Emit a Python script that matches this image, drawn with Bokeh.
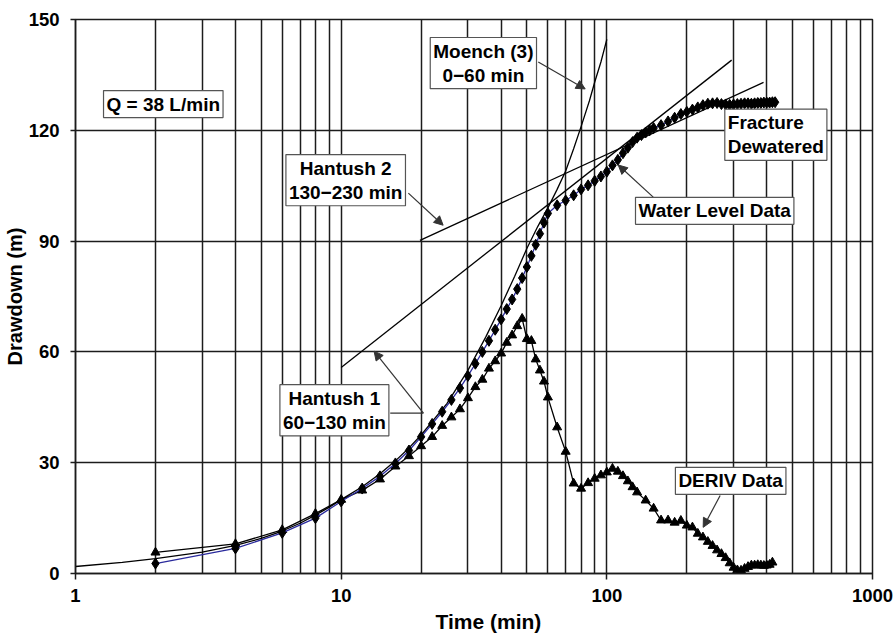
from bokeh.plotting import figure
from bokeh.models import Range1d, FixedTicker, Label, Arrow, NormalHead, Title
from bokeh.embed import file_html
from bokeh.resources import INLINE

# ---------------- data ----------------
wl_time = [2, 4, 6, 8, 10, 12, 14, 16, 18, 20, 22, 24, 26, 28, 30, 32, 34, 36, 38, 40,
           42, 44, 46, 48, 50, 52, 54, 56, 58, 60, 65, 70, 75, 80, 85, 90, 95, 100, 105,
           110, 115, 120, 125, 130, 135, 140, 145, 150, 160, 170, 180, 190, 200, 210, 220,
           230, 240, 250, 260, 270, 280, 290, 300, 310, 320, 330, 340, 350, 360, 370, 380,
           390, 400, 410, 420, 430]
wl_draw = [2.7, 6.8, 11.0, 15.0, 19.5, 23.0, 26.3, 29.8, 33.3, 37.0, 40.5, 43.8, 47.0, 50.2,
           53.5, 56.8, 60.0, 63.0, 66.0, 68.8, 71.6, 74.2, 77.0, 80.0, 83.0, 86.0, 89.0, 92.0,
           95.0, 97.5, 99.7, 101.0, 102.4, 104.0, 105.1, 106.3, 107.5, 108.8, 110.5, 112.0,
           113.8, 115.3, 116.8, 118.0, 118.7, 119.4, 120.0, 120.6, 121.4, 122.4, 123.4, 124.4,
           125.0, 125.6, 126.2, 126.8, 127.2, 127.3, 127.4, 127.1, 127.0, 126.9, 127.0, 127.1,
           127.2, 127.3, 127.3, 127.2, 127.3, 127.4, 127.4, 127.5, 127.5, 127.5, 127.6, 127.6]

deriv_time = [2, 4, 6, 8, 10, 12, 14, 16, 18, 20, 22, 24, 26, 28, 30, 32, 34, 36, 38, 40,
              42, 44, 46, 48, 50, 52, 54, 56, 58, 60, 65, 70, 75, 80, 85, 90, 95, 100, 105,
              110, 115, 120, 125, 130, 140, 150, 160, 170, 180, 190, 200, 210, 220, 230, 240,
              250, 260, 270, 280, 290, 300, 310, 320, 330, 340, 350, 360, 370, 380, 390, 400,
              410, 420]
deriv_val = [5.7, 8.0, 11.8, 16.2, 20.0, 22.5, 25.5, 29.0, 31.8, 34.5, 37.0, 40.0, 42.3, 44.5,
             47.5, 50.5, 52.5, 55.5, 57.5, 59.6, 62.5, 64.5, 67.0, 69.0, 63.5, 63.0, 58.0, 55.0,
             52.0, 47.7, 39.6, 33.0, 24.4, 23.0, 24.5, 25.7, 26.6, 27.4, 28.4, 27.6, 26.4, 25.0,
             23.4, 22.0, 19.8, 17.6, 14.4, 14.4, 13.8, 14.3, 13.0, 12.5, 10.8, 9.8, 8.6, 7.5,
             6.3, 5.3, 4.2, 2.8, 1.6, 0.9, 0.8, 1.3, 1.8, 2.2, 2.2, 2.3, 2.2, 2.1, 2.2, 2.4, 3.0]

moench_time = [1, 1.5, 2, 3, 4, 5, 6, 7, 8, 9, 10, 12, 14, 16, 18, 20, 25, 30, 35, 40, 45,
               50, 55, 60, 65, 70, 75, 80, 86, 90, 95, 100]
moench_draw = [1.9, 3.0, 4.0, 5.8, 7.6, 9.5, 11.5, 13.6, 15.8, 17.9, 20.0, 23.5, 27.0, 30.5,
               34.0, 37.5, 46.0, 55.0, 64.0, 72.5, 80.5, 88.0, 94.0, 99.0, 104.0, 109.0,
               115.0, 121.0, 128.0, 133.0, 138.5, 144.6]

hantush1_time = [10, 295]
hantush1_draw = [55.8, 139.0]
hantush2_time = [19.8, 389]
hantush2_draw = [90.2, 133.0]

x_major = [1, 10, 100, 1000]
x_minor = [m * d for d in (1, 10, 100) for m in range(2, 10)]
y_ticks = [0, 30, 60, 90, 120, 150]

FONT = "Liberation Sans"
GRID = "#1c1c1c"

p = figure(width=894, height=636, x_axis_type="log",
           x_range=Range1d(1, 1000), y_range=Range1d(0, 150),
           output_backend="svg", toolbar_location=None,
           min_border_left=75, min_border_right=22, min_border_top=19, min_border_bottom=63)
p.title.visible = False
p.background_fill_color = "white"
p.border_fill_color = "white"
p.outline_line_color = GRID
p.outline_line_width = 1.5

p.xaxis.ticker = FixedTicker(ticks=x_major, minor_ticks=x_minor)
p.yaxis.ticker = FixedTicker(ticks=y_ticks)
p.xaxis.major_label_overrides = {v: str(v) for v in x_major}

p.xgrid.grid_line_color = GRID
p.xgrid.grid_line_width = 1.5
p.xgrid.minor_grid_line_color = GRID
p.xgrid.minor_grid_line_width = 1.5
p.ygrid.grid_line_color = GRID
p.ygrid.grid_line_width = 1.5

for ax in (p.xaxis, p.yaxis):
    ax.axis_line_color = GRID
    ax.axis_line_width = 1.5
    ax.major_tick_line_color = GRID
    ax.major_tick_line_width = 1.5
    ax.major_tick_in = 0
    ax.minor_tick_in = 0
    ax.minor_tick_out = 0
    ax.major_label_text_font = FONT
    ax.major_label_text_font_style = "bold"
    ax.major_label_text_font_size = "18.5px"
    ax.major_label_text_color = "black"
    ax.axis_label_text_font = FONT
    ax.axis_label_text_font_style = "bold"
    ax.axis_label_text_font_size = "20px"
    ax.axis_label_text_color = "black"

p.xaxis.major_tick_out = 6
p.xaxis.major_label_standoff = 9
p.yaxis.major_tick_out = 5
p.yaxis.major_label_standoff = 11
p.yaxis.axis_label = "Drawdown (m)"
p.yaxis.axis_label_standoff = 0

p.add_layout(Title(text="Time (min)", align="left", offset=360, standoff=6,
                   text_font=FONT, text_font_style="bold", text_font_size="21px",
                   text_color="black"), "below")

# ---------------- curves ----------------
p.line(moench_time, moench_draw, line_color="black", line_width=1.3)
p.line(hantush1_time, hantush1_draw, line_color="black", line_width=1.3)
p.line(hantush2_time, hantush2_draw, line_color="black", line_width=1.3)

p.line(deriv_time, deriv_val, line_color="black", line_width=1.3)
p.scatter(deriv_time, deriv_val, marker="triangle", size=9,
          fill_color="black", line_color="black")

p.line(wl_time, wl_draw, line_color="#2a2a9c", line_width=1.3)
p.scatter(wl_time, wl_draw, marker="diamond", size=11,
          fill_color="black", line_color="black")

# ---------------- annotations ----------------
ARROW_C = "#333333"

def arrow(x0, y0, x1, y1):
    p.add_layout(Arrow(end=NormalHead(size=9, fill_color=ARROW_C, line_color=ARROW_C),
                       x_start=x0, y_start=y0, x_end=x1, y_end=y1,
                       line_color=ARROW_C, line_width=1.2))

arrow(55.2, 138.5, 82.9, 131.2)      # Moench
arrow(17.9, 103.0, 24.2, 94.3)       # Hantush 2
p.add_layout(Arrow(end=None, x_start=15.3, y_start=43.4, x_end=20.4, y_end=43.4,
                   line_color=ARROW_C, line_width=1.2))
arrow(20.4, 43.4, 13.3, 60.2)        # Hantush 1
arrow(149.5, 101.9, 110.4, 110.6)    # Water level
arrow(267, 21.1, 230.5, 12.5)        # DERIV


def box_label(x, y, text, align="center"):
    p.add_layout(Label(x=x, y=y, text=text, text_align=align, text_baseline="middle",
                       text_font=FONT, text_font_style="bold", text_font_size="19px",
                       text_color="black", text_line_height=1.15,
                       background_fill_color="white", border_line_color="#555555",
                       border_line_width=1.2, padding=3))

box_label(2.14, 127.1, "Q = 38 L/min")
box_label(34.3, 138.2, "Moench (3)\n0\u221260 min")
box_label(10.4, 106.5, "Hantush 2\n130\u2212230 min")
box_label(9.43, 44.2, "Hantush 1\n60\u2212130 min")
box_label(254.7, 98.2, "Water Level Data")
box_label(278, 118.8, "Fracture\nDewatered", align="left")
box_label(292.5, 25.1, "DERIV Data")

open("out.html", "w").write(file_html(p, INLINE))
